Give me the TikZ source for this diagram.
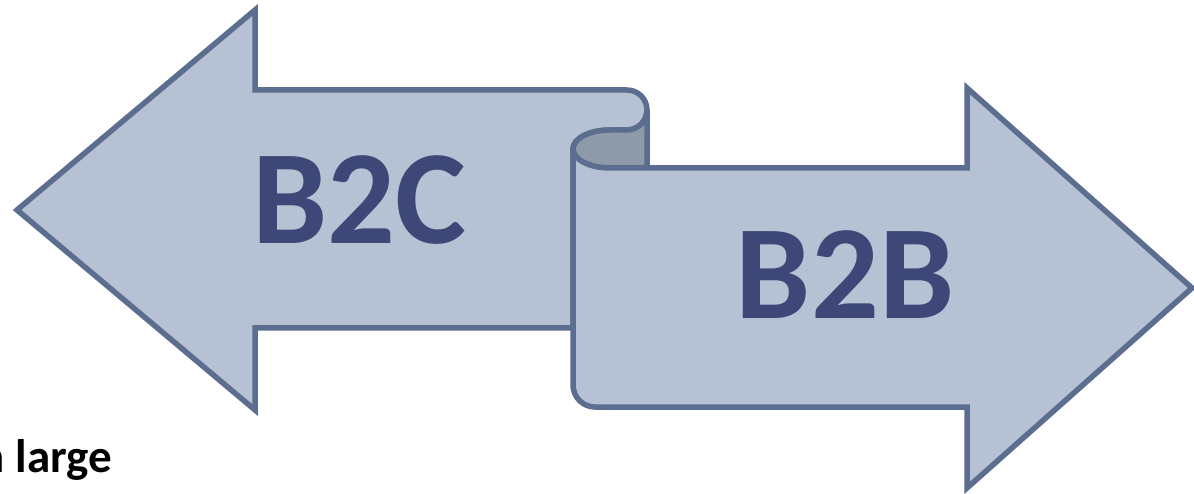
\documentclass[tikz,border=0pt]{standalone}
\usepackage{fontspec}
\setmainfont{Carlito}
\definecolor{edge}{RGB}{91,110,143}
\definecolor{body}{RGB}{182,193,211}
\definecolor{inner}{RGB}{142,154,170}
\definecolor{label}{RGB}{62,72,120}
\begin{document}
\begin{tikzpicture}[x=1pt,y=1pt,
  arrowbody/.style={draw=edge,line width=5.5pt,line join=miter,fill=body},
  curlbody/.style={draw=edge,line width=5.5pt,fill=inner},
  big/.style={text=label,font=\bfseries\fontsize{134}{134}\selectfont,inner sep=0pt},
  note/.style={text=black,font=\bfseries\fontsize{47}{47}\selectfont,inner sep=0pt}]
\useasboundingbox (0,0) rectangle (1194,493);
% left arrow (B2C)
\draw[arrowbody] (255,403) -- (255,483) -- (17,283) -- (255,83) -- (255,165) -- (573,165) -- (573,344)
  arc[start angle=180,end angle=90,x radius=37,y radius=19] -- (627,363)
  arc[start angle=-90,end angle=90,radius=20] -- cycle;
% inner curl
\draw[curlbody] (573,344) arc[start angle=180,end angle=90,x radius=37,y radius=19] -- (627,363)
  arc[start angle=-90,end angle=0,radius=20] -- (647,325) -- (610,325)
  arc[start angle=270,end angle=180,x radius=37,y radius=19] -- cycle;
% right arrow (B2B)
\draw[arrowbody] (967,325) -- (967,405) -- (1192,205) -- (967,5) -- (967,86) -- (595,86)
  arc[start angle=270,end angle=180,radius=22] -- (573,344)
  arc[start angle=180,end angle=270,x radius=37,y radius=19] -- cycle;
\node[big] (b2c) at (359,293) {B2C};
\node[big] (b2b) at (845,218) {B2B};
\node[note,anchor=base east] (large) at (112,21) {n large};
\end{tikzpicture}
\end{document}
